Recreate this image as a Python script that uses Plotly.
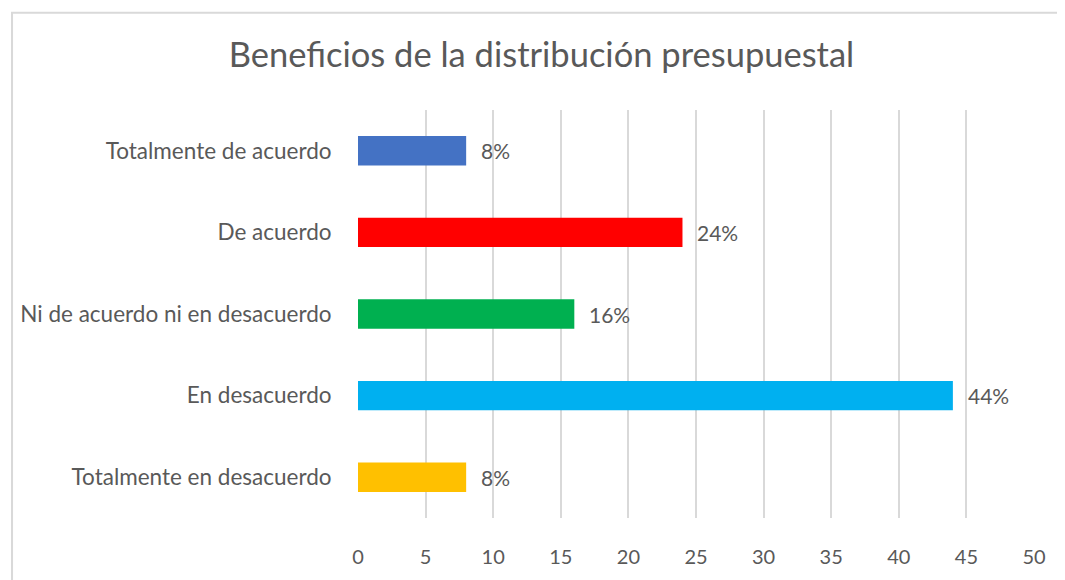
import plotly.graph_objects as go

categories = ["Totalmente de acuerdo", "De acuerdo", "Ni de acuerdo ni en desacuerdo",
              "En desacuerdo", "Totalmente en desacuerdo"]
values = [8, 24, 16, 44, 8]
labels = ["8%", "24%", "16%", "44%", "8%"]
colors = ["#4472C4", "#FF0000", "#00B050", "#00B0F0", "#FFC000"]
tick_vals = [0, 5, 10, 15, 20, 25, 30, 35, 40, 45, 50]

FONT = "Lato"
OFF = 8  # page body margin
W, H = 1065 - OFF, 580 - OFF
L, R, T, B = 356 - OFF, 1065 - 1034, 110 - OFF, 580 - 525
pw, ph = W - L - R, H - T - B

fig = go.Figure()
fig.add_trace(go.Bar(
    y=categories, x=values, orientation="h",
    marker=dict(color=colors, line=dict(width=0)),
    width=0.36, hoverinfo="x+y",
))
for c, v, t in zip(categories, values, labels):
    fig.add_annotation(x=v, y=c, text=t, showarrow=False, xanchor="left",
                       xshift=13, font=dict(family=FONT, size=21, color="#595959"))

def px_x(p):
    return (p - OFF - L) / pw

def px_y(p):
    return (H - B - (p - OFF)) / ph

fig.add_shape(type="rect", xref="paper", yref="paper",
              x0=px_x(9), x1=px_x(1080), y0=px_y(11), y1=px_y(600),
              line=dict(color="#D9D9D9", width=2), fillcolor="rgba(0,0,0,0)", layer="below")

fig.update_layout(
    width=W, height=H,
    margin=dict(l=L, r=R, t=T, b=B, pad=0),
    paper_bgcolor="white", plot_bgcolor="white",
    title=dict(text="Beneficios de la distribución presupuestal",
               x=((228 + 855) / 2 - OFF) / W,
               xanchor="center", y=1 - (55 - OFF) / H, yanchor="middle",
               font=dict(family=FONT, size=34.5, color="#595959")),
    showlegend=False,
    xaxis=dict(range=[0, 50], tickvals=tick_vals, showgrid=True, gridcolor="#D9D9D9",
               gridwidth=1.5, zeroline=False, showline=False,
               ticks="outside", ticklen=21, tickcolor="rgba(0,0,0,0)",
               tickfont=dict(family=FONT, size=20, color="#595959")),
    yaxis=dict(autorange="reversed", showgrid=False, zeroline=False, showline=False,
               ticks="outside", ticklen=21, tickcolor="rgba(0,0,0,0)",
               tickfont=dict(family=FONT, size=22.5, color="#595959")),
    font=dict(family=FONT),
)
fig.write_html("out.html")
